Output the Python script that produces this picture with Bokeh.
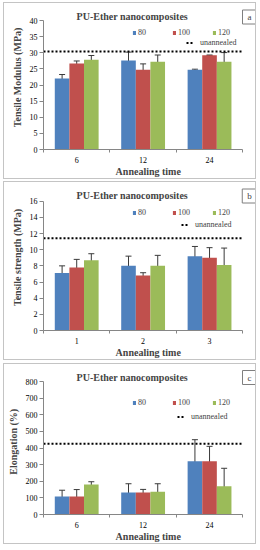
import numpy as np
from bokeh.plotting import figure
from bokeh.models import (ColumnDataSource, Range1d, FixedTicker, SingleIntervalTicker,
                          Whisker, Label, Legend, LegendItem, TeeHead)
from bokeh.layouts import column
from bokeh.transform import dodge
from bokeh.embed import file_html
from bokeh.resources import INLINE

series = ["80", "100", "120"]
colors = ["#4F81BD", "#C0504D", "#9BBB59"]

# Panel a: Tensile Modulus (MPa)
a_cats = ["6", "12", "24"]
a_80 = [22.0, 27.6, 24.7]
a_80_err = [1.25, 2.6, 0.2]
a_100 = [26.7, 24.7, 29.2]
a_100_err = [0.75, 1.85, 0.1]
a_120 = [27.8, 27.2, 27.2]
a_120_err = [1.35, 2.1, 2.85]
a_unannealed = 30.4

# Panel b: Tensile strength (MPa)
b_cats = ["1", "2", "3"]
b_80 = [7.1, 8.0, 9.2]
b_80_err = [0.9, 1.2, 1.2]
b_100 = [7.8, 6.8, 9.0]
b_100_err = [1.0, 0.35, 1.25]
b_120 = [8.7, 8.0, 8.1]
b_120_err = [0.8, 1.3, 2.1]
b_unannealed = 11.4

# Panel c: Elongation (%)
c_cats = ["6", "12", "24"]
c_80 = [108, 133, 320]
c_80_err = [38, 52, 130]
c_100 = [108, 133, 320]
c_100_err = [42, 18, 90]
c_120 = [180, 137, 170]
c_120_err = [17, 48, 108]
c_unannealed = 425

SERIF = "Liberation Serif"
W = 253
LEFT, RIGHT, TOP, BOTTOM = 35, 2, 2, 31
FW = W - LEFT - RIGHT
AXIS_W = 203             # width of the categorical part of the x axis
BAR_W = 0.22
OFFSETS = [-0.22, 0.0, 0.22]
LEG_OFF = 7


def make_panel(cats, vals, errs, unannealed, ymax, ystep, ylabel, letter,
               H, axis_top, title_d, leg_d, un_x, un_d, margin):
    n = len(cats)
    FH = H - TOP - BOTTOM
    FB = H - BOTTOM

    def sy(d):
        return FB - d

    yend = ymax * FH / (FB - axis_top)
    xend = n * FW / AXIS_W
    p = figure(width=W, height=H, output_backend="svg", toolbar_location=None,
               x_range=Range1d(0, xend), y_range=Range1d(0, yend),
               min_border_left=LEFT, min_border_right=RIGHT,
               min_border_top=TOP, min_border_bottom=BOTTOM, margin=margin)
    p.styles = {"border": "1px solid #c4c4c4"}
    p.outline_line_color = None
    p.xgrid.visible = False
    p.ygrid.visible = False
    p.background_fill_color = "white"

    data = {"x": np.arange(n) + 0.5}
    for i, (v, e) in enumerate(zip(vals, errs)):
        v = np.array(v, dtype=float)
        e = np.array(e, dtype=float)
        data[f"v{i}"] = v
        data[f"u{i}"] = v + e
        data[f"l{i}"] = v - e
    src = ColumnDataSource(data)

    renderers = []
    for i in range(3):
        r = p.vbar(x=dodge("x", OFFSETS[i], range=p.x_range), top=f"v{i}", width=BAR_W,
                   source=src, fill_color=colors[i], line_color=None)
        renderers.append(r)
    for i in range(3):
        w = Whisker(base=dodge("x", OFFSETS[i], range=p.x_range), upper=f"u{i}",
                    lower=f"l{i}", source=src, line_color="#3a3a3a", line_width=1,
                    upper_head=TeeHead(size=6, line_color="#3a3a3a", line_width=1),
                    lower_head=TeeHead(size=6, line_color="#3a3a3a", line_width=1))
        p.add_layout(w)

    # unannealed reference level across the category axis
    un_line = p.line(x=[0, n], y=[unannealed, unannealed], line_color="black",
                     line_dash="2 2", line_width=2)

    # axes
    xa = p.xaxis[0]
    xa.ticker = FixedTicker(ticks=list(data["x"]), minor_ticks=list(range(n + 1)))
    xa.bounds = (0, n)
    xa.major_label_overrides = {float(x): c for x, c in zip(data["x"], cats)}
    xa.major_tick_out = 0
    xa.major_tick_in = 0
    xa.minor_tick_out = 3
    xa.minor_tick_in = 0
    xa.axis_line_color = "#868686"
    xa.minor_tick_line_color = "#868686"
    xa.major_label_text_font = SERIF
    xa.major_label_text_font_size = "8px"
    xa.major_label_text_color = "black"
    xa.major_label_standoff = 4
    xa.axis_label = "Annealing  time"
    xa.axis_label_text_font = SERIF
    xa.axis_label_text_font_style = "bold"
    xa.axis_label_text_font_size = "10px"
    xa.axis_label_standoff = 0

    ya = p.yaxis[0]
    ya.ticker = SingleIntervalTicker(interval=ystep, num_minor_ticks=0)
    ya.bounds = (0, ymax)
    ya.major_tick_out = 4
    ya.major_tick_in = 0
    ya.minor_tick_line_color = None
    ya.axis_line_color = "#868686"
    ya.major_tick_line_color = "#868686"
    ya.major_label_text_font = SERIF
    ya.major_label_text_font_size = "8px"
    ya.major_label_text_color = "black"
    ya.major_label_standoff = 2
    ya.axis_label = ylabel
    ya.axis_label_text_font = SERIF
    ya.axis_label_text_font_style = "bold"
    ya.axis_label_text_font_size = "10px"
    ya.axis_label_standoff = 4

    # title and panel letter
    p.add_layout(Label(x=90, y=sy(title_d), x_units="screen", y_units="screen",
                       text="PU-Ether  nanocomposites", text_font=SERIF,
                       text_font_style="bold", text_font_size="10px",
                       text_align="center", text_baseline="middle"))
    p.add_layout(Label(x=206, y=sy(title_d + 0.5), x_units="screen", y_units="screen",
                       text=letter, text_font=SERIF, text_font_size="9px",
                       text_align="center", text_baseline="middle",
                       border_line_color="#7f7f7f", border_line_width=1,
                       background_fill_color="white", padding=(5, 2)))

    leg = Legend(items=[LegendItem(label=s, renderers=[r]) for s, r in zip(series, renderers)],
                 orientation="horizontal", location=(89, sy(leg_d) - LEG_OFF),
                 glyph_width=4, glyph_height=5, label_standoff=2, spacing=10,
                 label_width=24, label_height=10, padding=0, margin=0,
                 border_line_color=None, background_fill_alpha=0,
                 label_text_font=SERIF, label_text_font_size="8px")
    leg2 = Legend(items=[LegendItem(label="unannealed", renderers=[un_line])],
                  orientation="horizontal", location=(un_x, sy(un_d) - LEG_OFF),
                  glyph_width=8, glyph_height=5, label_standoff=6, spacing=0,
                  label_height=10, padding=0, margin=0,
                  border_line_color=None, background_fill_alpha=0,
                  label_text_font=SERIF, label_text_font_size="8px")
    p.add_layout(leg)
    p.add_layout(leg2)
    return p


pa = make_panel(a_cats, [a_80, a_100, a_120], [a_80_err, a_100_err, a_120_err],
                a_unannealed, 40, 5, "Tensile Modulus (MPa)", "a",
                177, 17, 13, 27.3, 143, 37.3, (2, 2, 1, 3))
pb = make_panel(b_cats, [b_80, b_100, b_120], [b_80_err, b_100_err, b_120_err],
                b_unannealed, 16, 2, "Tensile strength (MPa)", "b",
                179, 18.7, 13, 28.5, 138, 40.5, (1, 2, 2, 3))
pc = make_panel(c_cats, [c_80, c_100, c_120], [c_80_err, c_100_err, c_120_err],
                c_unannealed, 800, 100, "Elongation  (%)", "c",
                181, 17, 12.5, 36, 134, 50, (1, 2, 0, 3))

layout = column(pa, pb, pc, spacing=0)
open("out.html", "w").write(file_html(layout, INLINE))
